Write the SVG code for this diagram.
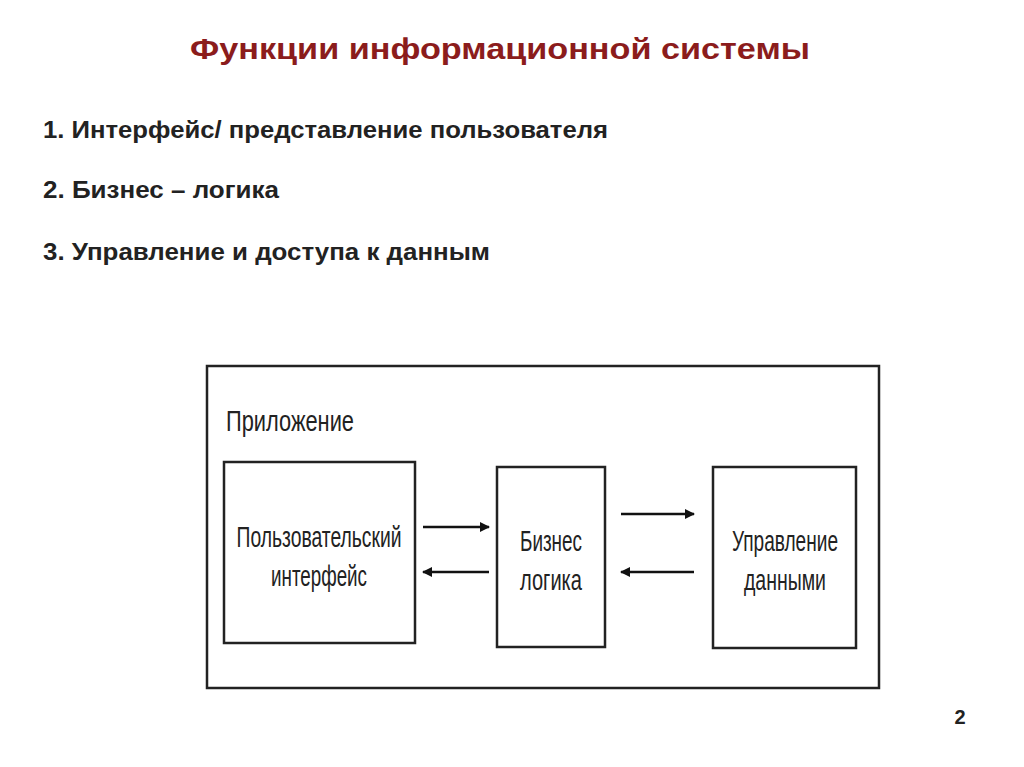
<svg xmlns="http://www.w3.org/2000/svg" width="1024" height="767" viewBox="0 0 1024 767">
<defs>
<style>
.t{font-family:"Liberation Sans",Arial,sans-serif;font-weight:bold;fill:#222}
.d{font-family:"Liberation Sans",Arial,sans-serif;fill:#222;font-size:30px}
.b{fill:#fff;stroke:#222;stroke-width:2.5}
.c{stroke:#111;stroke-width:2.5;fill:none;marker-end:url(#ah)}
</style>
<marker id="ah" viewBox="0 0 10 10" refX="9" refY="5" markerWidth="4" markerHeight="4" orient="auto"><path d="M0,0L10,5L0,10z" fill="#111"/></marker>
</defs>
<rect width="1024" height="767" fill="#fff"/>
<text x="500" y="59" text-anchor="middle" class="t" font-size="30" style="fill:#8b1c1c" textLength="620" lengthAdjust="spacingAndGlyphs">Функции информационной системы</text>
<text x="43" y="138" class="t" font-size="23" textLength="565" lengthAdjust="spacingAndGlyphs">1. Интерфейс/ представление пользователя</text>
<text x="43" y="198" class="t" font-size="23" textLength="236" lengthAdjust="spacingAndGlyphs">2. Бизнес – логика</text>
<text x="43" y="260" class="t" font-size="23" textLength="447" lengthAdjust="spacingAndGlyphs">3. Управление и доступа к данным</text>
<g id="app"><rect x="207" y="366" width="672" height="322" class="b"/>
<text x="226" y="431" class="d" textLength="128" lengthAdjust="spacingAndGlyphs">Приложение</text></g>
<g id="ui"><rect x="224" y="462" width="191" height="181" class="b"/>
<text class="d" text-anchor="middle"><tspan x="319" y="547" textLength="165" lengthAdjust="spacingAndGlyphs">Пользовательский</tspan><tspan x="319" y="586" textLength="96" lengthAdjust="spacingAndGlyphs">интерфейс</tspan></text></g>
<g id="bl"><rect x="497" y="467" width="108" height="180" class="b"/>
<text class="d" text-anchor="middle"><tspan x="551" y="551" textLength="62" lengthAdjust="spacingAndGlyphs">Бизнес</tspan><tspan x="551" y="590" textLength="62" lengthAdjust="spacingAndGlyphs">логика</tspan></text></g>
<g id="dm"><rect x="713" y="467" width="143" height="181" class="b"/>
<text class="d" text-anchor="middle"><tspan x="785" y="551" textLength="106" lengthAdjust="spacingAndGlyphs">Управление</tspan><tspan x="785" y="590" textLength="82" lengthAdjust="spacingAndGlyphs">данными</tspan></text></g>
<g id="connectors">
<line x1="423" y1="527" x2="489" y2="527" class="c"/>
<line x1="489" y1="572" x2="423" y2="572" class="c"/>
<line x1="621" y1="514" x2="694" y2="514" class="c"/>
<line x1="694" y1="572" x2="621" y2="572" class="c"/>
</g>
<text x="960" y="724" text-anchor="middle" class="t" font-size="20">2</text>
</svg>
